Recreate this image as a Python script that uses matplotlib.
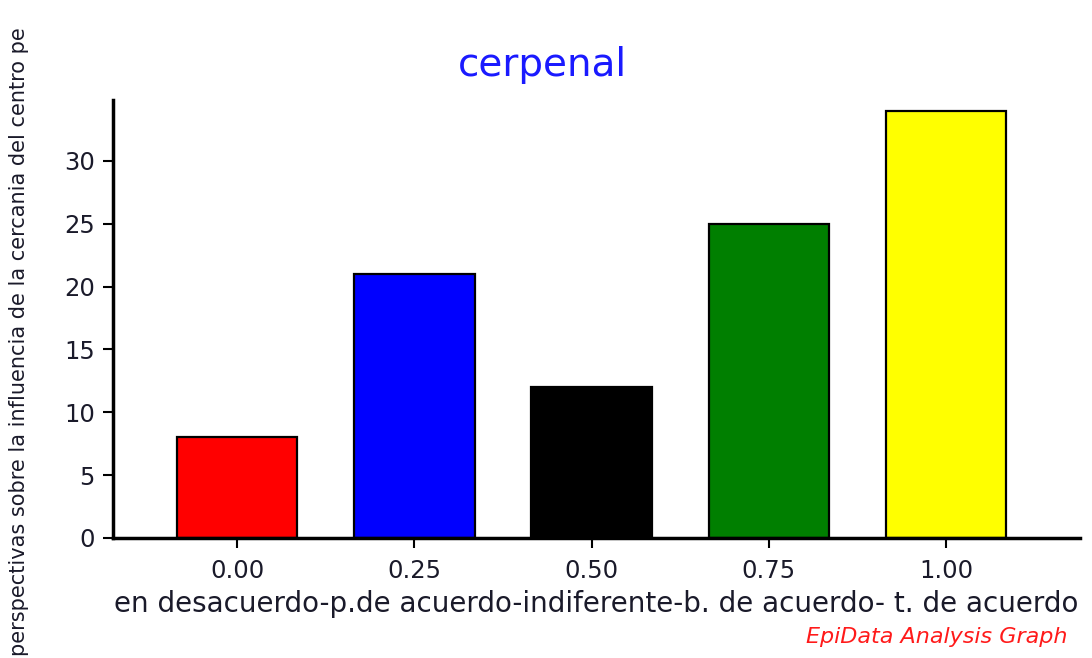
import matplotlib
matplotlib.use("Agg")
import matplotlib.pyplot as plt

# values
positions = [0.00, 0.25, 0.50, 0.75, 1.00]
tick_labels = ["0.00", "0.25", "0.50", "0.75", "1.00"]
counts = [8, 21, 12, 25, 34]
colors = ["#ff0000", "#0000ff", "#000000", "#007f00", "#ffff00"]
y_ticks = [0, 5, 10, 15, 20, 25, 30]

title = "cerpenal"
x_label = "en desacuerdo-p.de acuerdo-indiferente-b. de acuerdo- t. de acuerdo"
y_label = "perspectivas sobre la influencia de la cercania del centro pe"
credit = "EpiData Analysis Graph"

plt.rcParams["font.family"] = ["DejaVu Sans"]

fig = plt.figure(figsize=(10.92, 6.58), dpi=100)
ax = fig.add_axes([0.1035, 0.1824, 0.8855, 0.6656])

ax.bar(positions, counts, width=0.17, color=colors, edgecolor="black", linewidth=1.6, zorder=2)

ax.set_xlim(-0.175, 1.189)
ax.set_ylim(0, 34.85)
ax.set_xticks(positions)
ax.set_xticklabels(tick_labels)
ax.set_yticks(y_ticks)

for side in ("top", "right"):
    ax.spines[side].set_visible(False)
for side in ("left", "bottom"):
    ax.spines[side].set_linewidth(2.5)

ax.tick_params(axis="x", length=7, width=1.5, pad=8, labelsize=17.5, labelcolor="#1a1a2a")
ax.tick_params(axis="y", length=7, width=1.5, pad=6, labelsize=17.5, labelcolor="#1a1a2a")

ax.set_xlabel(x_label, fontsize=20, color="#1a1a2a", labelpad=5)

fig.text(0.497, 0.901, title, ha="center", va="center", fontsize=28, color="#1a1aff")
# the reference cuts this label at the top edge; sized here to just fit
fig.text(0.017, 0.003, y_label, rotation=90, ha="center", va="bottom",
         fontsize=15, color="#1a1a2a")
fig.text(0.978, 0.016, credit, ha="right", va="bottom", fontsize=16,
         style="italic", color="#ff1a1a")

fig.savefig("out.png", dpi=100)
